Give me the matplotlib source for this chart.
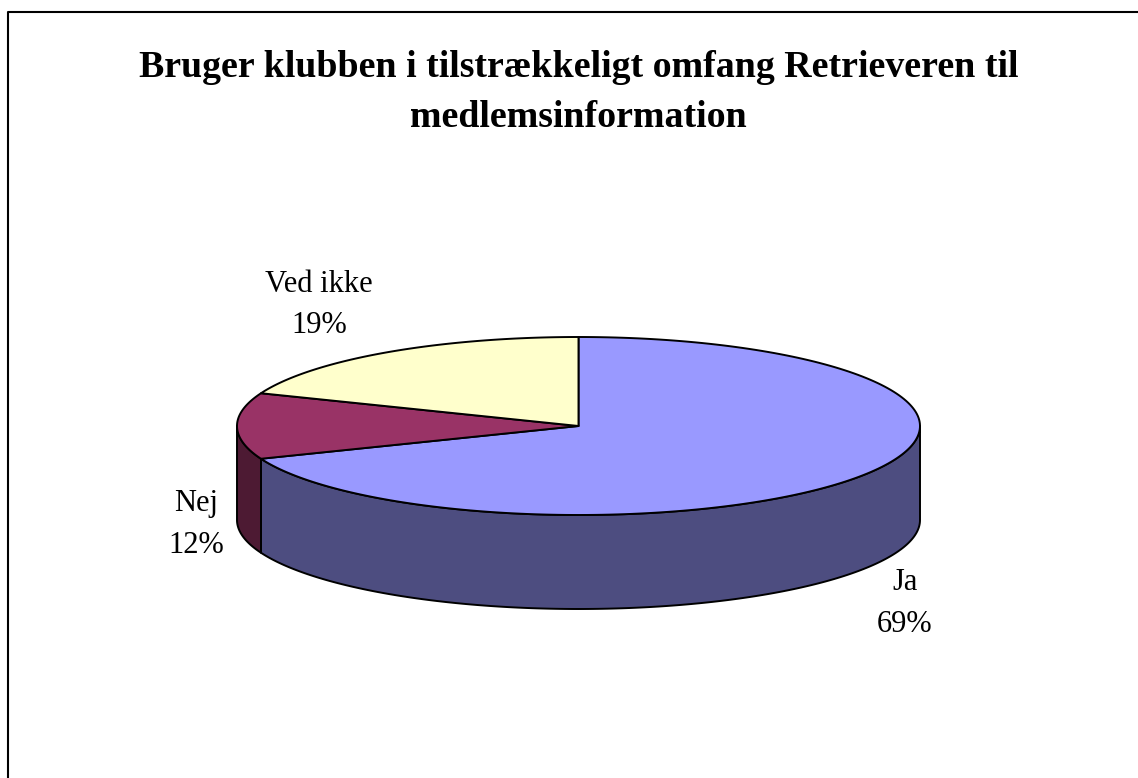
import numpy as np
import matplotlib.pyplot as plt
from matplotlib.patches import Polygon

# data
labels = ['Ja', 'Nej', 'Ved ikke']
values = [69, 12, 19]
pct_labels = ['69%', '12%', '19%']
top_colors = ['#9999FF', '#993366', '#FFFFCC']
side_colors = ['#4D4D80', '#4D1A33', '#80806A']

title_lines = ['Bruger klubben i tilstrækkeligt omfang Retrieveren til',
               'medlemsinformation']

# layout (pixels, y downward)
W, H = 1138, 778
cx, cy = 578.5, 426
rx, ry = 341.5, 89
depth = 94
# label centre x, baseline of first line, baseline of second line
label_xy = [(905, 590, 632), (196, 511, 553), (319, 292, 333)]
title_base = [77, 127]

fig = plt.figure(figsize=(W / 100, H / 100), dpi=100)
ax = fig.add_axes([0, 0, 1, 1])
ax.set_xlim(0, W)
ax.set_ylim(H, 0)
ax.axis('off')


def arc(t1, t2, n=200, dy=0):
    t = np.radians(np.linspace(t1, t2, n))
    return np.column_stack([cx + rx * np.cos(t), cy - ry * np.sin(t) + dy])


total = sum(values)
cum = np.concatenate([[0], np.cumsum(values)]) / total
theta1 = 90 - cum[:-1] * 360
theta2 = 90 - cum[1:] * 360

# side walls (front half only)
for i in range(len(values)):
    hi, lo = theta1[i], theta2[i]
    for k in range(-2, 2):
        a = max(lo, -180 + 360 * k)
        b = min(hi, 360 * k)
        if b > a:
            upper = arc(b, a)
            lower = arc(a, b, dy=depth)
            ax.add_patch(Polygon(np.vstack([upper, lower]), closed=True,
                                 facecolor=side_colors[i], edgecolor='black',
                                 linewidth=1.4, joinstyle='round'))

# tops
for i in range(len(values)):
    pts = np.vstack([[cx, cy], arc(theta1[i], theta2[i])])
    ax.add_patch(Polygon(pts, closed=True, facecolor=top_colors[i],
                         edgecolor='black', linewidth=1.4, joinstyle='round'))

# labels
for i in range(len(values)):
    x, y1, y2 = label_xy[i]
    ax.text(x, y1, labels[i], ha='center', va='baseline',
            fontsize=22, family='Liberation Serif')
    ax.text(x, y2, pct_labels[i], ha='center', va='baseline',
            fontsize=22, family='Liberation Serif')

for line, yb in zip(title_lines, title_base):
    ax.text(cx, yb, line, ha='center', va='baseline', fontsize=27.3,
            fontweight='bold', family='Liberation Serif')

# chart border
ax.plot([8, 8, W + 5], [H + 5, 12, 12], color='black', linewidth=1.5,
        clip_on=False)

fig.savefig('out.png', dpi=100)
